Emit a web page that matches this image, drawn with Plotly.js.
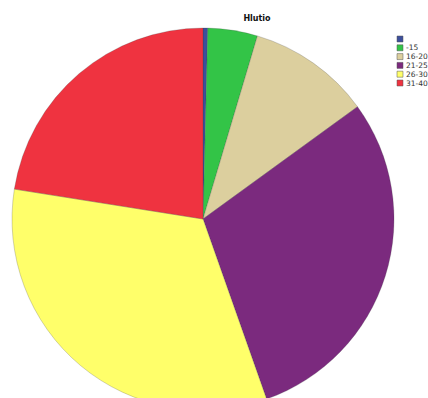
<!DOCTYPE html>
<html><head><meta charset="utf-8">
<script src="https://cdn.plot.ly/plotly-3.0.1.min.js"></script>
<style>html,body{margin:0;padding:0;overflow:hidden;background:#fff}</style>
</head><body><div id="chart" style="width:428px;height:412px"></div>
<script>
const labels = [" ", "-15", "16-20", "21-25", "26-30", "31-40"];
const values = [0.4, 4.2, 10.4, 29.6, 32.9, 22.5];
const colors = ["#3c4f9c", "#33c447", "#dccf9e", "#7b2a7e", "#ffff6a", "#ef3340"];

const W = 428, H = 412;
// compact legend built from the label / colour arrays
const shapes = [], annotations = [];
labels.forEach((lab, i) => {
  const yc = 39 + i * 8.8;
  shapes.push({type: "rect", xref: "paper", yref: "paper",
    x0: 397 / W, x1: 403 / W, y0: 1 - (yc + 3) / H, y1: 1 - (yc - 3) / H,
    fillcolor: colors[i], line: {color: "#555", width: 0.5}});
  annotations.push({xref: "paper", yref: "paper", x: 404 / W, y: 1 - yc / H,
    xanchor: "left", yanchor: "middle", showarrow: false, text: lab,
    font: {family: "DejaVu Sans", size: 7.5, color: "#333"}});
});

Plotly.newPlot("chart", [{
  type: "pie",
  labels: labels,
  values: values,
  sort: false,
  direction: "clockwise",
  rotation: 0,
  textinfo: "none",
  hoverinfo: "label+percent",
  domain: {x: [12 / W, 394 / W], y: [2 / H, 384 / H]},
  marker: {colors: colors, line: {color: "rgba(60,60,60,0.45)", width: 0.5}}
}], {
  width: W, height: H,
  margin: {l: 0, r: 0, t: 0, b: 0},
  paper_bgcolor: "#fff",
  title: {text: "<b>Hlutio</b>", x: 257 / W, xanchor: "center", y: 1 - 18 / H, yanchor: "middle",
          font: {family: "DejaVu Sans", size: 8, color: "#111"}},
  showlegend: false,
  shapes: shapes,
  annotations: annotations
}, {displayModeBar: false});
</script></body></html>
